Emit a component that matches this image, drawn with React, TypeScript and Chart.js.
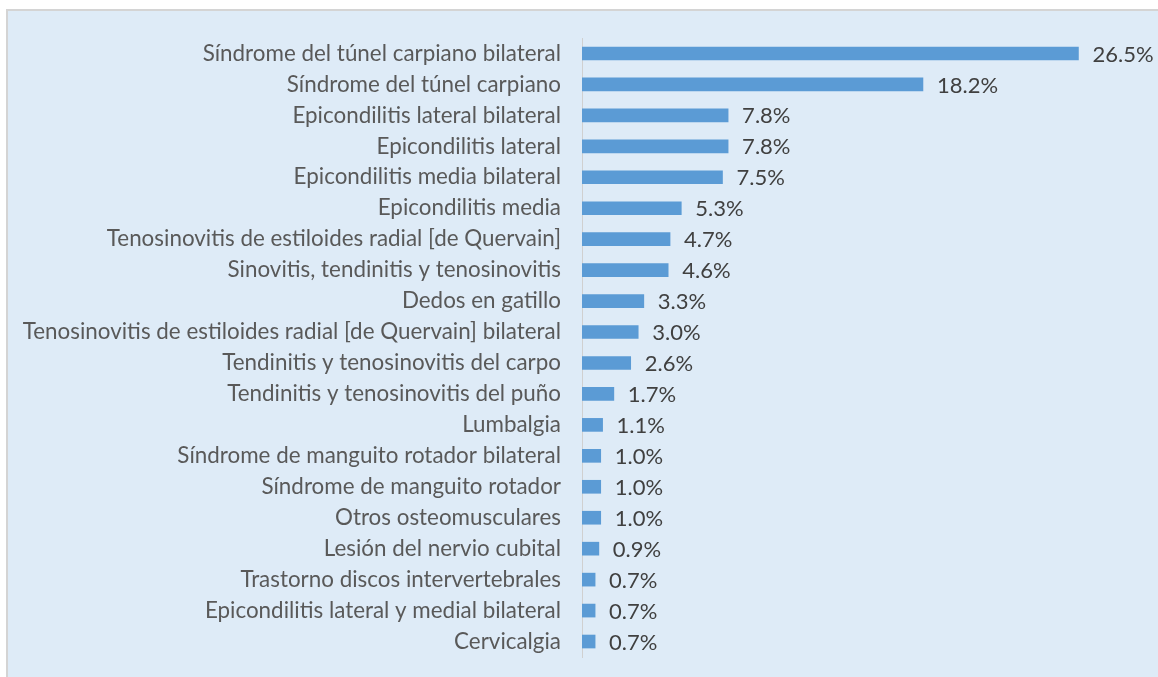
import React, { useEffect, useRef } from "react";
import { Chart, registerables } from "chart.js";

Chart.register(...registerables);

const categories = [
  "Síndrome del túnel carpiano bilateral",
  "Síndrome del túnel carpiano",
  "Epicondilitis lateral bilateral",
  "Epicondilitis lateral",
  "Epicondilitis media bilateral",
  "Epicondilitis media",
  "Tenosinovitis de estiloides radial [de Quervain]",
  "Sinovitis, tendinitis y tenosinovitis",
  "Dedos en gatillo",
  "Tenosinovitis de estiloides radial [de Quervain] bilateral",
  "Tendinitis y tenosinovitis del carpo",
  "Tendinitis y tenosinovitis del puño",
  "Lumbalgia",
  "Síndrome de manguito rotador bilateral",
  "Síndrome de manguito rotador",
  "Otros osteomusculares",
  "Lesión del nervio cubital",
  "Trastorno discos intervertebrales",
  "Epicondilitis lateral y medial bilateral",
  "Cervicalgia",
];

const percentages = [
  26.5, 18.2, 7.8, 7.8, 7.5, 5.3, 4.7, 4.6, 3.3, 3.0, 2.6, 1.7, 1.1, 1.0, 1.0, 1.0, 0.9, 0.7, 0.7, 0.7,
];

const FONT = "Lato, 'Open Sans', sans-serif";
const FONT_SIZE = 22;
const LABEL_FONT_SIZE = 22.4;

const valueLabels = {
  id: "valueLabels",
  afterDatasetsDraw(chart: any) {
    const ctx = chart.ctx;
    const meta = chart.getDatasetMeta(0);
    ctx.save();
    ctx.font = `${FONT_SIZE}px ${FONT}`;
    ctx.fillStyle = "#404040";
    ctx.textAlign = "left";
    ctx.textBaseline = "middle";
    meta.data.forEach((bar: any, i: number) => {
      const v = chart.data.datasets[0].data[i] as number;
      ctx.fillText(v.toFixed(1) + "%", bar.x + 14, bar.y + 1);
    });
    ctx.restore();
  },
};

export default function App() {
  const ref = useRef<HTMLCanvasElement | null>(null);

  useEffect(() => {
    document.body.style.margin = "0";
    if (!ref.current) return;
    const chart = new Chart(ref.current, {
      type: "bar",
      data: {
        labels: categories,
        datasets: [
          {
            data: percentages,
            backgroundColor: "#5b9bd5",
            borderWidth: 0,
            barThickness: 13,
          },
        ],
      },
      options: {
        indexAxis: "y",
        animation: false,
        responsive: false,
        maintainAspectRatio: false,
        layout: { padding: { top: 38, bottom: 20, left: 0, right: 14 } },
        plugins: {
          legend: { display: false },
          tooltip: { enabled: false },
        },
        scales: {
          x: {
            display: false,
            min: 0,
            max: 30,
          },
          y: {
            afterFit: (scale: any) => {
              scale.width = 582;
              scale.paddingTop = 0;
              scale.paddingBottom = 0;
            },
            grid: { display: false, drawTicks: false },
            border: { display: true, color: "#d0d0d0", width: 1 },
            ticks: {
              color: "#595959",
              padding: 21,
              autoSkip: false,
              font: { size: LABEL_FONT_SIZE, family: FONT },
            },
          },
        },
      },
      plugins: [valueLabels],
    });
    return () => chart.destroy();
  }, []);

  return (
    <div style={{ position: "fixed", left: 0, top: 0, width: 1158, height: 677, background: "#ffffff" }}>
      <div
        style={{
          position: "absolute",
          left: 6,
          top: 9,
          right: 0,
          bottom: 0,
          background: "#deebf7",
          borderLeft: "2px solid #d4d4d4",
          borderTop: "2px solid #d4d4d4",
        }}
      />
      <canvas ref={ref} width={1158} height={677} style={{ position: "absolute", left: 0, top: 0 }} />
    </div>
  );
}
